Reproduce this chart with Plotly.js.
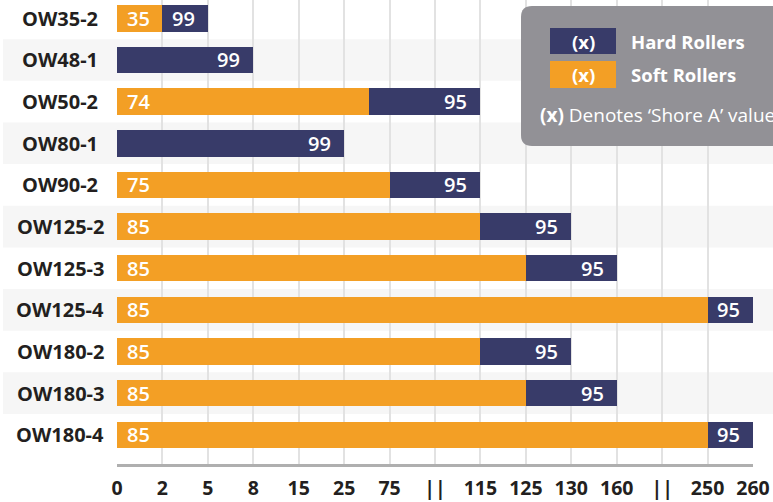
<!DOCTYPE html>
<html>
<head>
<meta charset="utf-8">
<script src="https://cdn.plot.ly/plotly-3.0.1.min.js"></script>
<style>html,body{margin:0;padding:0;background:#fff;}#chart{width:773px;height:502px;}</style>
</head>
<body>
<div id="chart"></div>
<script>
// ---- data ----
const categories = ["OW35-2","OW48-1","OW50-2","OW80-1","OW90-2","OW125-2","OW125-3","OW125-4","OW180-2","OW180-3","OW180-4"];
const xTickLabels = ["0","2","5","8","15","25","75","||","115","125","130","160","||","250","260"];
// segment ends, in positions of the (broken, evenly spaced) x scale
const softEnd = [1, 0, 5.55, 0, 6, 8, 9, 13, 8, 9, 13];
const hardEnd = [2, 3, 8, 5, 8, 10, 11, 14, 10, 11, 14];
// Shore A values printed in the bars
const softShore = [35, null, 74, null, 75, 85, 85, 85, 85, 85, 85];
const hardShore = [99, 99, 95, 99, 95, 95, 95, 95, 95, 95, 95];

// ---- styling / layout helpers ----
const W = 773, H = 502, L = 117, R = 20, T = 0, B = 38;
const PW = W - L - R, PH = H - T - B;
const px = x => (x - L) / PW;
const py = y => (H - B - y) / PH;
const ORANGE = "#F39F25", NAVY = "#383B69", DARK = "#231F20";
const FONT = "Open Sans";

const idx = categories.map((_, i) => i);

const soft = {
  type: "bar", orientation: "h", y: idx, x: softEnd, base: 0,
  marker: {color: ORANGE, line: {width: 0}}, width: 0.635, hoverinfo: "skip", showlegend: false
};
const hard = {
  type: "bar", orientation: "h", y: idx, x: hardEnd.map((h, i) => h - softEnd[i]), base: softEnd,
  marker: {color: NAVY, line: {width: 0}}, width: 0.635, hoverinfo: "skip", showlegend: false
};

const shapes = [];
// alternating row bands
idx.forEach(i => {
  if (i % 2 === 1) {
    shapes.push({type: "rect", layer: "below", xref: "paper", yref: "y",
      x0: px(3), x1: px(780), y0: i - 0.5, y1: i + 0.5, fillcolor: "#F6F6F6", line: {width: 0}});
  }
});
// legend box (rounded)
function roundRect(x0, y0, x1, y1, r) {
  const X = v => px(v), Y = v => py(v);
  return `M ${X(x0 + r)},${Y(y0)} L ${X(x1 - r)},${Y(y0)} Q ${X(x1)},${Y(y0)} ${X(x1)},${Y(y0 + r)} ` +
         `L ${X(x1)},${Y(y1 - r)} Q ${X(x1)},${Y(y1)} ${X(x1 - r)},${Y(y1)} L ${X(x0 + r)},${Y(y1)} ` +
         `Q ${X(x0)},${Y(y1)} ${X(x0)},${Y(y1 - r)} L ${X(x0)},${Y(y0 + r)} Q ${X(x0)},${Y(y0)} ${X(x0 + r)},${Y(y0)} Z`;
}
shapes.push({type: "path", layer: "above", xref: "paper", yref: "paper",
  path: roundRect(521, 6, 800, 146, 11), fillcolor: "#929196", line: {width: 0}});
shapes.push({type: "rect", layer: "above", xref: "paper", yref: "paper",
  x0: px(550), x1: px(616), y0: py(54), y1: py(28), fillcolor: NAVY, line: {width: 0}});
shapes.push({type: "rect", layer: "above", xref: "paper", yref: "paper",
  x0: px(550), x1: px(616), y0: py(88), y1: py(61), fillcolor: ORANGE, line: {width: 0}});

const annotations = [];
// category labels, centred
categories.forEach((c, i) => annotations.push({
  xref: "paper", yref: "y", x: px(60), y: i, text: "<b>" + c + "</b>", showarrow: false,
  xanchor: "center", yanchor: "middle", font: {family: FONT, size: 20, color: DARK}
}));
// values in the bars
softShore.forEach((v, i) => { if (v !== null) annotations.push({
  xref: "x", yref: "y", x: 0, y: i, text: String(v), showarrow: false, xanchor: "left", xshift: 8,
  yanchor: "middle", font: {family: FONT, size: 20, color: "#fff", weight: 600}
}); });
hardShore.forEach((v, i) => annotations.push({
  xref: "x", yref: "y", x: hardEnd[i], y: i, text: String(v), showarrow: false, xanchor: "right", xshift: -11,
  yanchor: "middle", font: {family: FONT, size: 20, color: "#fff", weight: 600}
}));
// legend texts
const legFont = {family: FONT, size: 18.5, color: "#fff"};
annotations.push({xref: "paper", yref: "paper", x: px(583), y: py(41), text: "<b>(x)</b>", showarrow: false, xanchor: "center", yanchor: "middle", font: legFont});
annotations.push({xref: "paper", yref: "paper", x: px(583), y: py(74.5), text: "<b>(x)</b>", showarrow: false, xanchor: "center", yanchor: "middle", font: legFont});
annotations.push({xref: "paper", yref: "paper", x: px(629), y: py(41), text: "<b>Hard Rollers</b>", showarrow: false, xanchor: "left", yanchor: "middle", font: legFont});
annotations.push({xref: "paper", yref: "paper", x: px(629), y: py(74.5), text: "<b>Soft Rollers</b>", showarrow: false, xanchor: "left", yanchor: "middle", font: legFont});
annotations.push({xref: "paper", yref: "paper", x: px(538), y: py(115), text: "<b>(x)</b> Denotes ‘Shore A’ value", showarrow: false, xanchor: "left", yanchor: "middle", font: {family: FONT, size: 19, color: "#fff"}});

const layout = {
  width: W, height: H, margin: {l: L, r: R, t: T, b: B, pad: 0},
  paper_bgcolor: "#fff", plot_bgcolor: "rgba(0,0,0,0)",
  barmode: "overlay", bargap: 0, showlegend: false,
  font: {family: FONT, color: DARK},
  xaxis: {
    range: [0, 14], tickmode: "array", tickvals: xTickLabels.map((_, i) => i), ticktext: xTickLabels,
    showgrid: true, gridcolor: "#E2E2E2", gridwidth: 2, zeroline: false,
    showline: true, linecolor: "#AFAFAF", linewidth: 2.5,
    ticks: "outside", ticklen: 5, tickcolor: "rgba(0,0,0,0)",
    tickfont: {family: FONT, size: 19.5, color: DARK, weight: 700}, fixedrange: true
  },
  yaxis: {
    range: [10.70, -0.44], showticklabels: false, showgrid: false, zeroline: false, showline: false,
    ticks: "", fixedrange: true
  },
  shapes: shapes, annotations: annotations
};

Plotly.newPlot("chart", [soft, hard], layout, {staticPlot: true, displayModeBar: false});
</script>
</body>
</html>
